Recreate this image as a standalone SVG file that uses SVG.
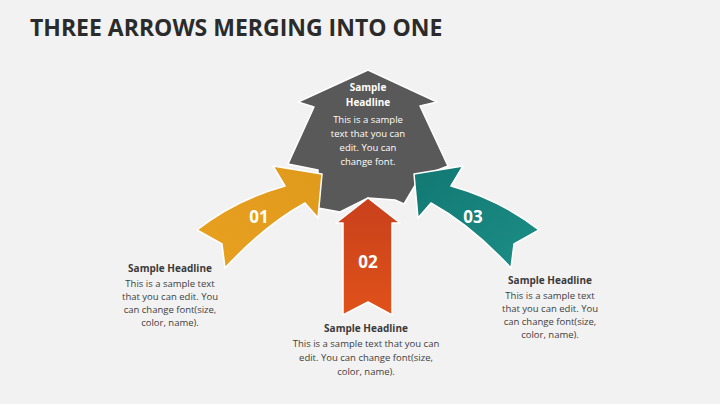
<svg xmlns="http://www.w3.org/2000/svg" width="720" height="404" viewBox="0 0 720 404">
<defs>
<linearGradient id="gO" x1="0" y1="1" x2="1" y2="0"><stop offset="0" stop-color="#e8a020"/><stop offset="1" stop-color="#e09a1c"/></linearGradient>
<linearGradient id="gR" x1="0" y1="0" x2="0" y2="1"><stop offset="0" stop-color="#c8401c"/><stop offset="1" stop-color="#e0521a"/></linearGradient>
<linearGradient id="gT" x1="1" y1="1" x2="0" y2="0"><stop offset="0" stop-color="#1c8e86"/><stop offset="1" stop-color="#127872"/></linearGradient>
</defs>
<style>
.t{font-family:"Open Sans","Liberation Sans",sans-serif;text-anchor:middle}
.h{font-size:10px;font-weight:bold;fill:#3a3a3a}
.b{font-size:9.5px;fill:#404040}
.w{fill:#fff}
.n{font-size:17px;font-weight:bold;fill:#fff}
.s{stroke:#fff;stroke-width:1.5;stroke-linejoin:round}
</style>
<rect width="720" height="404" fill="#f2f2f2"/>
<text x="30" y="36" font-family="Open Sans, Liberation Sans, sans-serif" font-size="23" font-weight="bold" fill="#2b2b2b">THREE ARROWS MERGING INTO ONE</text>
<g id="main">
<path class="s" fill="#595959" d="M368,70 L437,102 L420,106 L448,166 L420,177 L404,204 L395,200 L368,198 L340,212 L318,208 L318,170 L288,164 L314,107 L298,102 Z"/>
<text class="t h w" x="368" y="91">Sample</text>
<text class="t h w" x="368" y="106">Headline</text>
<text class="t b w" x="368" y="123">This is a sample</text>
<text class="t b w" x="368" y="137">text that you can</text>
<text class="t b w" x="368" y="151">edit. You can</text>
<text class="t b w" x="368" y="165">change font.</text>
</g>
<g id="n01">
<path class="s" fill="url(#gO)" d="M197,230 Q235,200 285,186 L273,166 L322,174 L318,218 L305,203 Q265,225 225,268 L222,244 Z"/>
<text class="t n" x="259" y="223">01</text>
<text class="t h" x="170" y="272">Sample Headline</text>
<text class="t b" x="170" y="287">This is a sample text</text>
<text class="t b" x="170" y="300">that you can edit. You</text>
<text class="t b" x="170" y="313">can change font(size,</text>
<text class="t b" x="170" y="326">color, name).</text>
</g>
<g id="n02">
<path class="s" fill="url(#gR)" d="M368,198 L400,223 L392,223 L392,315 L368,302 L343,315 L343,223 L336,223 Z"/>
<text class="t n" x="368" y="268">02</text>
<text class="t h" x="366" y="332">Sample Headline</text>
<text class="t b" x="366" y="347">This is a sample text that you can</text>
<text class="t b" x="366" y="361">edit. You can change font(size,</text>
<text class="t b" x="366" y="375">color, name).</text>
</g>
<g id="n03">
<path class="s" fill="url(#gT)" d="M539,230 Q501,200 451,186 L463,166 L414,174 L418,218 L431,203 Q471,225 511,268 L514,244 Z"/>
<text class="t n" x="473" y="223">03</text>
<text class="t h" x="550" y="284">Sample Headline</text>
<text class="t b" x="550" y="299">This is a sample text</text>
<text class="t b" x="550" y="312">that you can edit. You</text>
<text class="t b" x="550" y="325">can change font(size,</text>
<text class="t b" x="550" y="338">color, name).</text>
</g>
<g id="connectors"/>
</svg>
